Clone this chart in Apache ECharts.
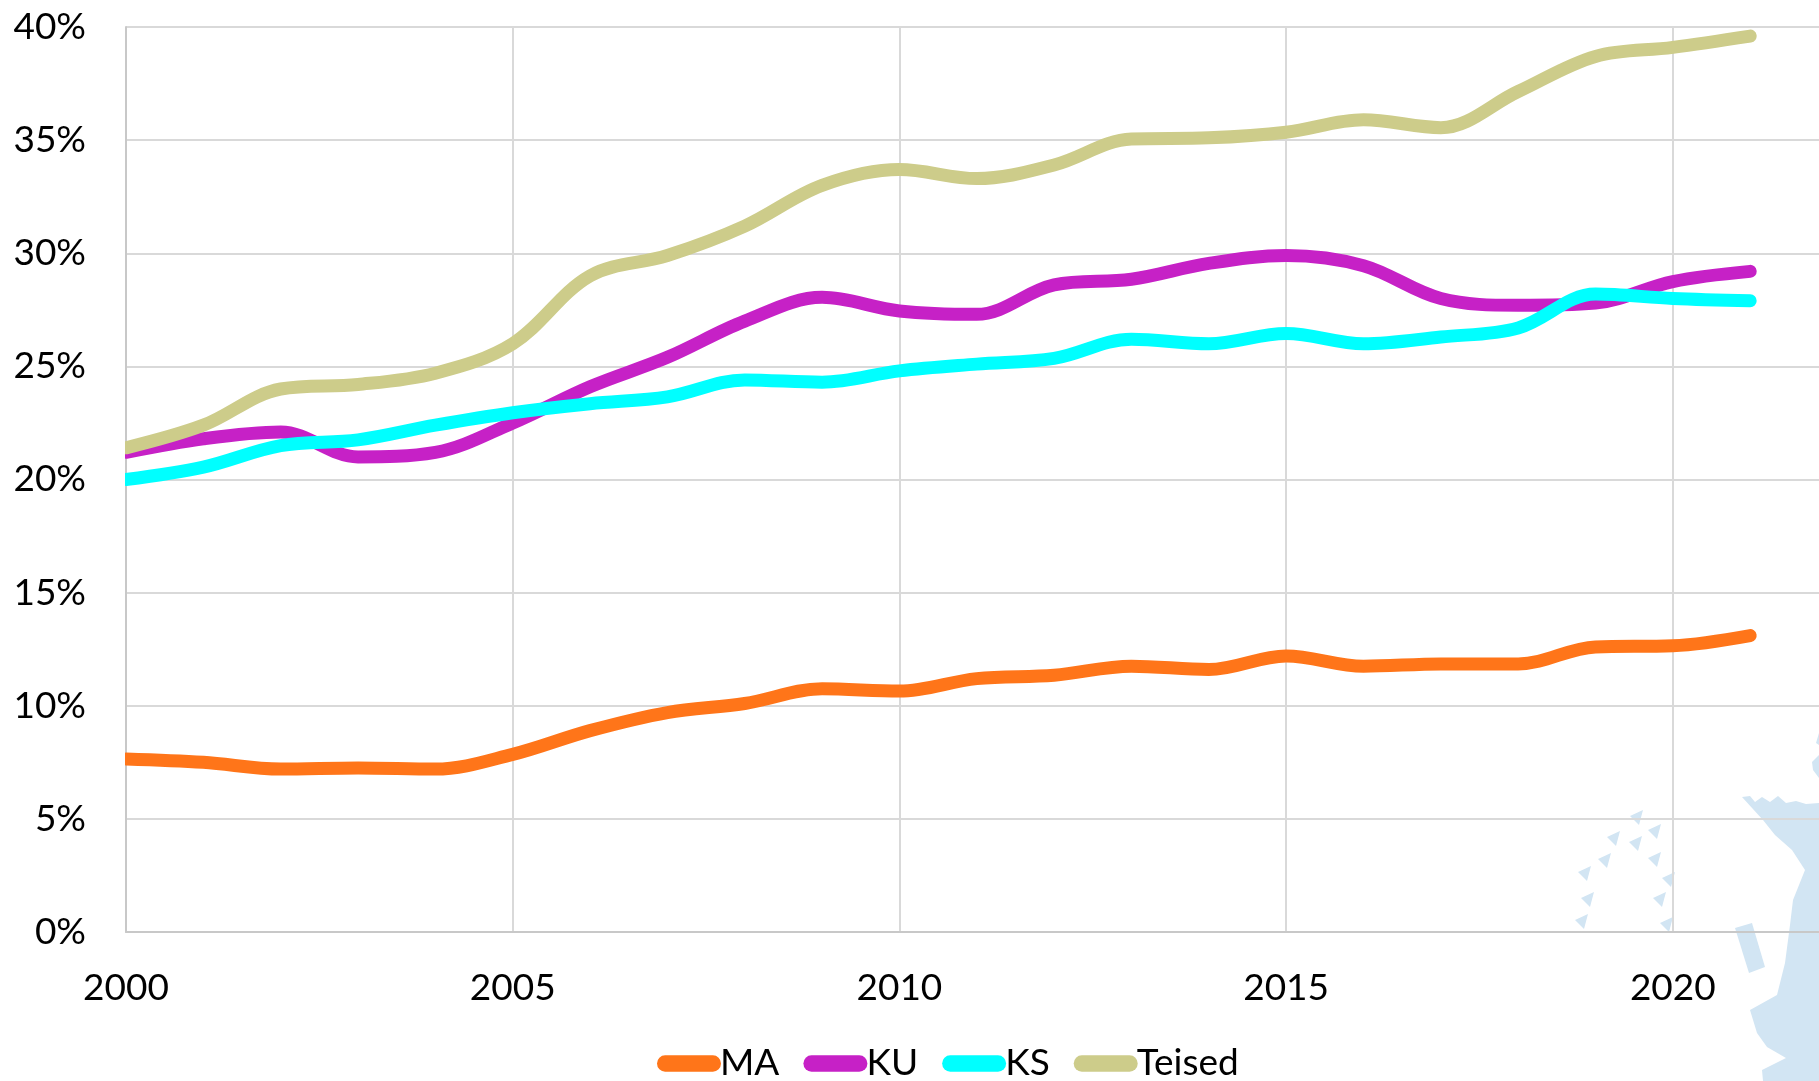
<!DOCTYPE html>
<html>
<head>
<meta charset="utf-8">
<script src="https://cdn.jsdelivr.net/npm/echarts@6/dist/echarts.min.js"></script>
<style>
html, body { margin: 0; padding: 0; background: #fff; }
#chartBox { width: 1819px; height: 1081px; }
</style>
</head>
<body>
<div id="chartBox"></div>
<script>
var years = [2000, 2001, 2002, 2003, 2004, 2005, 2006, 2007, 2008, 2009, 2010, 2011, 2012, 2013, 2014, 2015, 2016, 2017, 2018, 2019, 2020, 2021];
var valuesMA = [7.65, 7.5, 7.2, 7.25, 7.2, 7.85, 8.9, 9.7, 10.1, 10.75, 10.65, 11.2, 11.35, 11.75, 11.6, 12.2, 11.75, 11.85, 11.85, 12.6, 12.65, 13.1];
var valuesKU = [21.2, 21.8, 22.1, 21.0, 21.2, 22.5, 24.1, 25.4, 27.0, 28.05, 27.45, 27.3, 28.6, 28.85, 29.55, 29.9, 29.45, 28.0, 27.7, 27.8, 28.75, 29.2];
var valuesKS = [20.0, 20.55, 21.5, 21.75, 22.4, 22.95, 23.35, 23.65, 24.4, 24.3, 24.8, 25.1, 25.35, 26.2, 26.0, 26.45, 26.0, 26.3, 26.7, 28.2, 28.0, 27.9];
var valuesTeised = [21.4, 22.4, 24.0, 24.2, 24.7, 26.0, 29.0, 29.9, 31.2, 33.0, 33.7, 33.3, 33.9, 35.05, 35.1, 35.35, 35.9, 35.55, 37.15, 38.7, 39.1, 39.6];

var fontName = 'Lato';

// taustal olev kaart (dekoratsioon), koordinaadid pikslites
var mapColor = '#d2e5f3';
var mainLand = [[1742,797],[1750,796],[1755,802],[1762,797],[1770,802],[1778,796],[1786,803],[1796,801],[1806,804],[1819,803],[1819,1081],[1763,1081],[1762,1070],[1786,1058],[1767,1047],[1757,1033],[1750,1010],[1777,995],[1785,963],[1790,925],[1793,900],[1805,870],[1792,850],[1775,835],[1763,820]];
var mapPier = [[1735,928],[1752,923],[1765,967],[1749,973]];
var mapBlob1 = [[1819,733],[1816,743],[1819,745]];
var mapBlob2 = [[1819,755],[1812,762],[1813,770],[1819,778]];
var islands = [[1637,817],[1614,838],[1655,831],[1636,843],[1605,860],[1655,859],[1585,873],[1669,879],[1588,899],[1660,899],[1582,921],[1667,924]];

function mapPolygon(points) {
    return {
        type: 'polygon',
        z: -1,
        silent: true,
        shape: { points: points },
        style: { fill: mapColor }
    };
}

function buildMap() {
    var list = [mapPolygon(mainLand), mapPolygon(mapPier), mapPolygon(mapBlob1), mapPolygon(mapBlob2)];
    islands.forEach(function (c) {
        list.push(mapPolygon([[c[0] - 7, c[1] - 1], [c[0] + 6, c[1] - 7], [c[0] + 2, c[1] + 8]]));
    });
    // joone algus loigatakse telje juures ara
    list.push({
        type: 'rect',
        z: 10,
        silent: true,
        shape: { x: 110, y: 27, width: 15, height: 905 },
        style: { fill: '#fff' }
    });
    return list;
}

function pairUp(values) {
    return values.map(function (v, i) {
        return [years[i], v];
    });
}

function lineSeries(name, values, color) {
    return {
        name: name,
        type: 'line',
        data: pairUp(values),
        smooth: 0.35,
        symbol: 'none',
        lineStyle: { color: color, width: 13, cap: 'round', join: 'round' },
        itemStyle: { color: color }
    };
}

var myChart = echarts.init(document.getElementById('chartBox'), null, { renderer: 'canvas' });

var option = {
    backgroundColor: '#fff',
    animation: false,
    graphic: { elements: buildMap() },
    grid: { left: 126, right: 0, top: 27, height: 905 },
    legend: {
        left: 652,
        top: 1040,
        itemWidth: 64,
        itemHeight: 17,
        itemGap: 24,
        icon: 'path://M8,0 L55,0 A8,8 0 0 1 55,16 L8,16 A8,8 0 0 1 8,0 Z',
        textStyle: { color: '#000', fontFamily: fontName, fontSize: 37, padding: [0, 0, 0, -6] },
        data: ['MA', 'KU', 'KS', 'Teised']
    },
    xAxis: {
        type: 'value',
        min: 2000,
        max: 2021.89,
        interval: 5,
        axisLine: { lineStyle: { color: '#c8c8c8', width: 2 } },
        axisTick: { show: false },
        splitLine: { show: true, showMaxLine: false, lineStyle: { color: '#d9d9d9', width: 2 } },
        axisLabel: {
            color: '#000',
            fontFamily: fontName,
            fontSize: 37,
            margin: 38,
            showMaxLabel: false,
            formatter: function (v) { return String(v); }
        }
    },
    yAxis: {
        type: 'value',
        min: 0,
        max: 40,
        interval: 5,
        axisLine: { show: true, lineStyle: { color: '#c8c8c8', width: 2 } },
        axisTick: { show: false },
        splitLine: { show: true, lineStyle: { color: '#d9d9d9', width: 2 } },
        axisLabel: {
            color: '#000',
            fontFamily: fontName,
            fontSize: 37,
            margin: 40,
            formatter: '{value}%'
        }
    },
    series: [
        lineSeries('MA', valuesMA, '#ff7519'),
        lineSeries('KU', valuesKU, '#c621c6'),
        lineSeries('KS', valuesKS, '#00ffff'),
        lineSeries('Teised', valuesTeised, '#cdcc8a')
    ]
};

myChart.setOption(option);
</script>
</body>
</html>
